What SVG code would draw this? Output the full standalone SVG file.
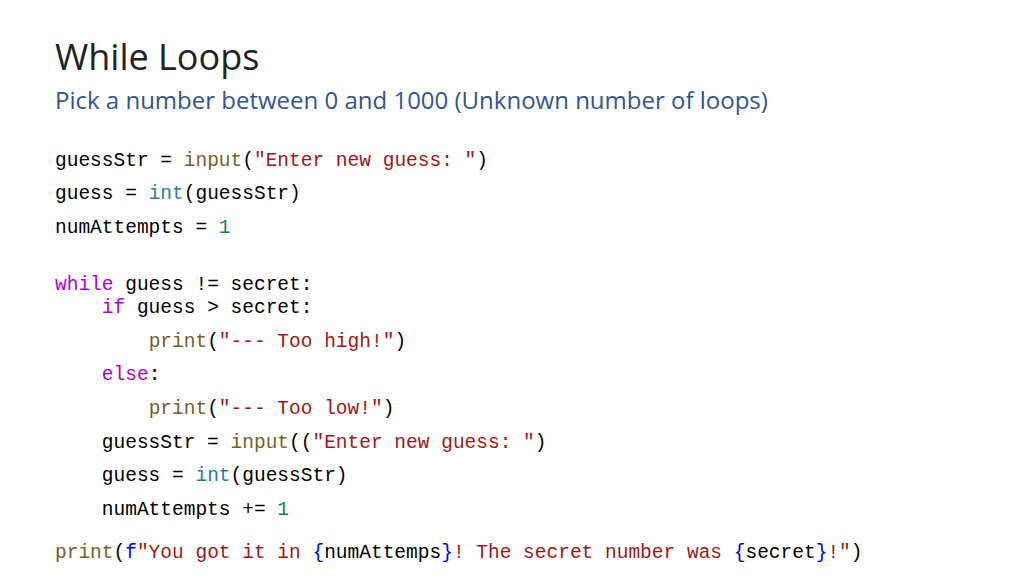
<svg xmlns="http://www.w3.org/2000/svg" width="1024" height="576" viewBox="0 0 1024 576">
<style>
.t{font-family:"Open Sans","Liberation Sans",sans-serif}
.c{font-family:"Liberation Mono","DejaVu Sans Mono",monospace;font-size:19.5px;fill:#000;white-space:pre}
.k{fill:#AF00DB}.f{fill:#795E26}.ty{fill:#267F99}.s{fill:#A31515}.n{fill:#098658}.b{fill:#0000FF}
</style>
<rect width="1024" height="576" fill="#fff"/>
<text class="t" x="55" y="70" font-size="36" fill="#222">While Loops</text>
<text class="t" x="55" y="109" font-size="24" fill="#2F5597">Pick a number between 0 and 1000 (Unknown number of loops)</text>
<g xml:space="preserve">
<text class="c" x="55" y="166">guessStr = <tspan class="f">input</tspan>(<tspan class="s">"Enter new guess: "</tspan>)</text>
<text class="c" x="55" y="199">guess = <tspan class="ty">int</tspan>(guessStr)</text>
<text class="c" x="55" y="233">numAttempts = <tspan class="n">1</tspan></text>
<text class="c" x="55" y="290"><tspan class="k">while</tspan> guess != secret:</text>
<text class="c" x="55" y="313">    <tspan class="k">if</tspan> guess &gt; secret:</text>
<text class="c" x="55" y="347">        <tspan class="f">print</tspan>(<tspan class="s">"--- Too high!"</tspan>)</text>
<text class="c" x="55" y="380">    <tspan class="k">else</tspan>:</text>
<text class="c" x="55" y="414">        <tspan class="f">print</tspan>(<tspan class="s">"--- Too low!"</tspan>)</text>
<text class="c" x="55" y="448">    guessStr = <tspan class="f">input</tspan>((<tspan class="s">"Enter new guess: "</tspan>)</text>
<text class="c" x="55" y="481">    guess = <tspan class="ty">int</tspan>(guessStr)</text>
<text class="c" x="55" y="515">    numAttempts += <tspan class="n">1</tspan></text>
<text class="c" x="55" y="558"><tspan class="f">print</tspan>(<tspan class="b">f</tspan><tspan class="s">"You got it in </tspan><tspan class="b">{</tspan>numAttemps<tspan class="b">}</tspan><tspan class="s">! The secret number was </tspan><tspan class="b">{</tspan>secret<tspan class="b">}</tspan><tspan class="s">!"</tspan>)</text>
</g>
</svg>
